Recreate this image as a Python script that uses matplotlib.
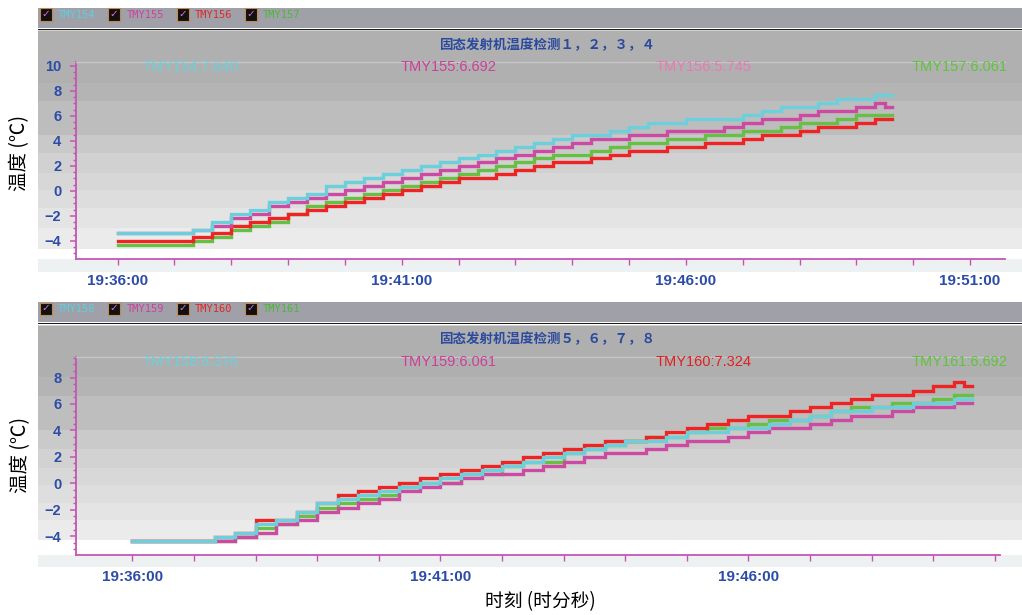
import numpy as np
import pandas as pd
import matplotlib
matplotlib.use('Agg')
import matplotlib.pyplot as plt
import matplotlib.dates as mdates
from matplotlib.patches import Rectangle
from matplotlib.ticker import AutoMinorLocator

plt.rcParams['font.family'] = ['Liberation Sans', 'Noto Sans CJK SC', 'DejaVu Sans']

# 采样时刻 (秒, 从 19:36:00 起)
start = pd.Timestamp('2000-01-01 19:36:00')
seconds = list(range(0, 801, 20)) + [810, 818]
times = (start + pd.to_timedelta(seconds, unit='s')).to_pydatetime()

# 面板 1: TMY154 ~ TMY157
names_1 = ['TMY154', 'TMY155', 'TMY156', 'TMY157']
tmy154 = [-3.41, -3.41, -3.41, -3.41, -3.10, -2.47, -1.83, -1.52, -0.89, -0.57,
          -0.25, 0.38, 0.69, 1.01, 1.32, 1.64, 1.96, 2.27, 2.59, 2.90,
          3.22, 3.53, 3.85, 4.17, 4.48, 4.48, 4.80, 5.11, 5.43, 5.43,
          5.75, 5.75, 5.75, 6.06, 6.38, 6.69, 6.69, 7.01, 7.32, 7.32,
          7.64, 7.64, 7.64]
tmy155 = [-3.41, -3.41, -3.41, -3.41, -3.10, -2.78, -2.15, -1.83, -1.20, -0.89,
          -0.57, -0.25, 0.06, 0.38, 0.69, 1.01, 1.32, 1.64, 1.96, 2.27,
          2.59, 2.90, 3.22, 3.53, 3.85, 4.17, 4.17, 4.48, 4.48, 4.80,
          4.80, 4.80, 5.11, 5.43, 5.75, 5.75, 6.06, 6.38, 6.38, 6.69,
          7.01, 6.69, 6.69]
tmy156 = [-4.05, -4.05, -4.05, -4.05, -3.73, -3.41, -2.78, -2.47, -2.15, -1.83,
          -1.52, -1.20, -0.89, -0.57, -0.25, 0.06, 0.38, 0.69, 1.01, 1.01,
          1.32, 1.64, 1.96, 2.27, 2.27, 2.59, 2.90, 3.22, 3.22, 3.53,
          3.53, 3.85, 3.85, 4.17, 4.48, 4.48, 4.80, 5.11, 5.11, 5.43,
          5.75, 5.75, 5.75]
tmy157 = [-4.36, -4.36, -4.36, -4.36, -4.05, -3.73, -3.10, -2.78, -2.47, -1.83,
          -1.20, -0.89, -0.57, -0.25, 0.06, 0.38, 0.69, 1.01, 1.32, 1.64,
          1.96, 2.27, 2.59, 2.90, 2.90, 3.22, 3.53, 3.85, 3.85, 4.17,
          4.17, 4.48, 4.48, 4.80, 4.80, 5.11, 5.43, 5.43, 5.75, 6.06,
          6.06, 6.06, 6.06]
last_1 = ['7.640', '6.692', '5.745', '6.061']

# 面板 2: TMY158 ~ TMY161
names_2 = ['TMY158', 'TMY159', 'TMY160', 'TMY161']
tmy158 = [-4.36, -4.36, -4.36, -4.36, -4.05, -3.73, -3.10, -2.78, -2.15, -1.52,
          -1.20, -0.89, -0.57, -0.25, 0.06, 0.38, 0.69, 1.01, 1.32, 1.64,
          1.96, 2.27, 2.59, 2.90, 3.22, 3.22, 3.53, 3.85, 3.85, 4.17,
          4.17, 4.48, 4.80, 5.11, 5.43, 5.43, 5.75, 5.75, 6.06, 6.06,
          6.38, 6.38, 6.38]
tmy159 = [-4.36, -4.36, -4.36, -4.36, -4.36, -4.05, -3.73, -3.10, -2.78, -2.15,
          -1.83, -1.52, -1.20, -0.57, -0.25, 0.06, 0.38, 0.69, 0.69, 1.01,
          1.32, 1.64, 1.96, 2.27, 2.27, 2.59, 2.90, 3.22, 3.22, 3.53,
          3.85, 4.17, 4.17, 4.48, 4.80, 5.11, 5.11, 5.43, 5.75, 5.75,
          6.06, 6.06, 6.06]
tmy160 = [-4.36, -4.36, -4.36, -4.36, -4.05, -3.73, -2.78, -2.78, -2.15, -1.52,
          -0.89, -0.57, -0.25, 0.06, 0.38, 0.69, 1.01, 1.32, 1.64, 1.96,
          2.27, 2.59, 2.90, 3.22, 3.22, 3.53, 3.85, 4.17, 4.48, 4.80,
          5.11, 5.11, 5.43, 5.75, 6.06, 6.38, 6.69, 6.69, 7.01, 7.32,
          7.64, 7.32, 7.32]
tmy161 = [-4.36, -4.36, -4.36, -4.36, -4.36, -4.05, -3.41, -3.10, -2.47, -1.83,
          -1.52, -1.20, -0.89, -0.25, 0.06, 0.06, 0.69, 0.69, 1.32, 1.64,
          1.64, 2.27, 2.59, 2.90, 3.22, 3.53, 3.53, 3.85, 4.17, 4.17,
          4.48, 4.80, 4.80, 5.11, 5.43, 5.75, 5.75, 6.06, 6.06, 6.38,
          6.69, 6.69, 6.69]
last_2 = ['6.376', '6.061', '7.324', '6.692']

line_colors = ['#6ccfdc', '#cc4aa2', '#ee2424', '#66c043']
W, H = 1022, 615
fig = plt.figure(figsize=(W / 100, H / 100), dpi=100)


def fx(x):
    return x / W


def fy(y):
    return 1 - y / H


def rect(x0, y0, x1, y1, color, z=-5, **kw):
    fig.add_artist(Rectangle((fx(x0), fy(y1)), fx(x1) - fx(x0), fy(y0) - fy(y1),
                             transform=fig.transFigure, facecolor=color,
                             edgecolor=kw.pop('ec', 'none'), zorder=z, **kw))


def draw_panel(top, bands, ax_box, xlim_s, ylim, yticks, data, names, last,
               legend_colors, value_colors, title):
    # 图例条
    rect(38, top, 1022, top + 20, '#a0a0a8')
    rect(38, top + 20.5, 1022, top + 22.5, '#1c1c1c')
    rect(38, top + 22.5, 1022, top + 24.5, '#d2d2d2')
    for i, nm in enumerate(names):
        bx = 40 + 68.3 * i
        rect(bx, top + 0.5, bx + 12, top + 12.5, '#111111', z=-4, ec='#c48a4e', lw=0.8)
        fig.text(fx(bx + 6), fy(top + 6.5), '\u2713', color='#e070d8', fontsize=7.5,
                 family=['DejaVu Sans'], ha='center', va='center', weight='bold')
        fig.text(fx(bx + 18), fy(top + 6.5), nm, color=legend_colors[i], fontsize=7.5,
                 family=['DejaVu Sans Mono'], ha='left', va='center')
    # 背景渐变条
    for y0, y1, c in bands:
        rect(38, y0, 1022, y1, c)
    x0, y0, x1, y1 = ax_box
    ax = fig.add_axes([fx(x0), fy(y1), fx(x1) - fx(x0), fy(y0) - fy(y1)])
    ax.patch.set_visible(False)
    for i in [3, 2, 1, 0]:
        ax.plot(times, data[i], drawstyle='steps-post', color=line_colors[i],
                lw=2.4, solid_joinstyle='miter')
    ax.set_xlim(start + pd.Timedelta(seconds=xlim_s[0]), start + pd.Timedelta(seconds=xlim_s[1]))
    ax.set_ylim(*ylim)
    ax.set_yticks(yticks)
    ax.yaxis.set_minor_locator(AutoMinorLocator(4))
    ax.xaxis.set_major_locator(mdates.MinuteLocator(byminute=range(1, 60, 5)))
    ax.xaxis.set_minor_locator(mdates.MinuteLocator())
    ax.xaxis.set_major_formatter(mdates.DateFormatter('%H:%M:%S'))
    for s in ['left', 'bottom']:
        ax.spines[s].set_color('#c455b4')
        ax.spines[s].set_linewidth(1.3)
    ax.spines['top'].set_color('#c6c6c6')
    ax.spines['top'].set_linewidth(1.0)
    ax.spines['right'].set_visible(False)
    ax.tick_params(axis='both', which='both', color='#c455b4', direction='out',
                   labelcolor='#2c4ca6')
    ax.tick_params(axis='y', which='major', length=4, width=1.1, pad=6.5, labelsize=10.5)
    ax.tick_params(axis='y', which='minor', length=2.5, width=1)
    ax.tick_params(axis='x', which='both', length=4, width=1, pad=7, labelsize=11)
    for lb in ax.get_xticklabels() + ax.get_yticklabels():
        lb.set_fontweight('bold')
    # 标题与当前值
    fig.text(fx(548), fy(top + 37), title, fontsize=9.7, weight='bold', color='#2b4a9e',
             family=['Noto Sans CJK SC'], ha='center', va='center')
    for i, cx in enumerate([191, 449, 704, 960]):
        fig.text(fx(cx), fy(y0 + 5), f'{names[i]}:{last[i]}', color=value_colors[i],
                 fontsize=10.5, ha='center', va='center')
    return ax


bands_1 = [(31, 83, '#b0b0b0'), (83, 101, '#b4b4b4'), (101, 135, '#bdbdbd'),
           (135, 153, '#c9c9c9'), (153, 173, '#d1d1d1'), (173, 190, '#d7d7d7'),
           (190, 208, '#dddddd'), (208, 228, '#e4e4e4'), (228, 249, '#ebebeb'),
           (249, 259, '#ffffff'), (259, 272, '#eef1f1')]
bands_2 = [(326, 377, '#afafaf'), (377, 396, '#b4b4b4'), (396, 430, '#bebebe'),
           (430, 449, '#cacaca'), (449, 468, '#d2d2d2'), (468, 485, '#d8d8d8'),
           (485, 503, '#dedede'), (503, 520, '#e4e4e4'), (520, 540, '#ebebeb'),
           (540, 555, '#ffffff'), (555, 567, '#eef1f1')]

draw_panel(8, bands_1, (76, 62, 1005, 259), (-44, 937), (-5.46, 10.3), range(-4, 11, 2),
           [tmy154, tmy155, tmy156, tmy157], names_1, last_1,
           ['#5fcfe0', '#d040a0', '#e02828', '#4cb83a'],
           ['#6dd0dc', '#cc3f99', '#e87ab4', '#5ec43c'],
           '固态发射机温度检测１，２，３，４')
draw_panel(302, bands_2, (76, 357, 1000, 555), (-55, 845), (-5.42, 9.55), range(-4, 9, 2),
           [tmy158, tmy159, tmy160, tmy161], names_2, last_2,
           ['#5fcfe0', '#d040a0', '#e02828', '#4cb83a'],
           ['#6dd0dc', '#cc3f99', '#e02020', '#5ec43c'],
           '固态发射机温度检测５，６，７，８')

fig.text(fx(20), fy(153), '温度 (℃)', rotation=90, fontsize=14,
         family=['Noto Sans CJK SC', 'DejaVu Sans'], ha='center', va='center')
fig.text(fx(21), fy(455), '温度 (℃)', rotation=90, fontsize=14,
         family=['Noto Sans CJK SC', 'DejaVu Sans'], ha='center', va='center')
fig.text(fx(540), fy(602), '时刻 (时分秒)', fontsize=13.5,
         family=['Noto Sans CJK SC', 'DejaVu Sans'], ha='center', va='center')

fig.savefig('out.png', dpi=100)
